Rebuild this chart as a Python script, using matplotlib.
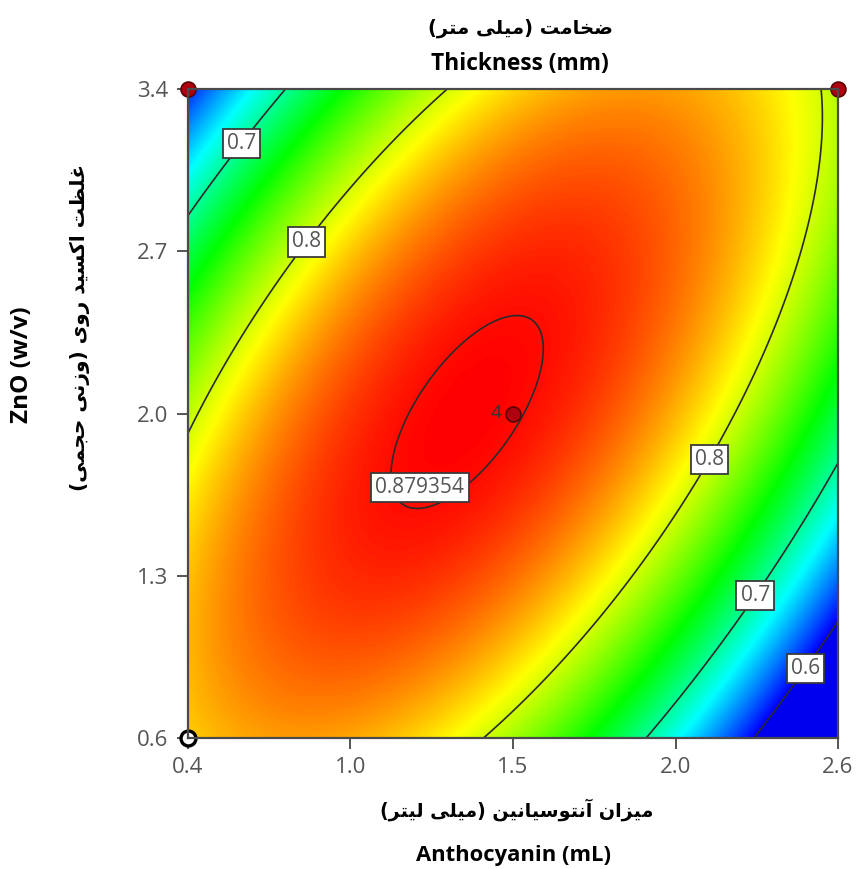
import numpy as np
import matplotlib
matplotlib.use("Agg")
import matplotlib.pyplot as plt
from matplotlib.colors import LinearSegmentedColormap, Normalize

# ---------------- data ----------------
# quadratic response-surface coefficients in coded units
# order: intercept, A, B, AB, A^2, B^2
coef_names = ["b0", "A", "B", "AB", "A2", "B2"]
coef_values = [0.88066, -0.03502, 0.01849, 0.12594, -0.12193, -0.07578]

x_range = [0.4, 2.6]      # Anthocyanin (mL)
y_range = [0.6, 3.4]      # ZnO (w/v)
x_center, x_half = 1.5, 1.1
y_center, y_half = 2.0, 1.4

x_ticks = [0.4, 0.95, 1.5, 2.05, 2.6]
x_tick_labels = ["0.4", "1.0", "1.5", "2.0", "2.6"]
y_ticks = [0.6, 1.3, 2.0, 2.7, 3.4]
y_tick_labels = ["0.6", "1.3", "2.0", "2.7", "3.4"]

contour_levels = [0.6, 0.7, 0.8, 0.879354]
contour_label_text = ["0.6", "0.7", "0.8", "0.879354"]
label_x = [0.566, 0.779, 1.185, 2.150, 2.302, 2.461]
label_y = [3.180, 2.762, 1.680, 1.812, 1.230, 0.928]

red_pts_x = [0.4, 2.6, 1.5]
red_pts_y = [3.4, 3.4, 2.0]
white_pts_x = [0.4]
white_pts_y = [0.6]
center_count = "4"

color_lo, color_hi = 0.60, 0.883

title_fa = "ضخامت (میلی متر)"
title_en = "Thickness (mm)"
xlabel_fa = "میزان آنتوسیانین (میلی لیتر)"
xlabel_en = "Anthocyanin (mL)"
ylabel_fa = "غلظت اکسید روی (وزنی حجمی)"
ylabel_en = "ZnO (w/v)"

# ---------------- Persian shaping (no shaping engine in matplotlib) ----------------
FORMS = {
    "\u0627": (0xFE8D, 0xFE8E, None, None),
    "\u0622": (0xFE81, 0xFE82, None, None),
    "\u0628": (0xFE8F, 0xFE90, 0xFE91, 0xFE92),
    "\u062A": (0xFE95, 0xFE96, 0xFE97, 0xFE98),
    "\u062C": (0xFE9D, 0xFE9E, 0xFE9F, 0xFEA0),
    "\u062D": (0xFEA1, 0xFEA2, 0xFEA3, 0xFEA4),
    "\u062E": (0xFEA5, 0xFEA6, 0xFEA7, 0xFEA8),
    "\u062F": (0xFEA9, 0xFEAA, None, None),
    "\u0631": (0xFEAD, 0xFEAE, None, None),
    "\u0632": (0xFEAF, 0xFEB0, None, None),
    "\u0633": (0xFEB1, 0xFEB2, 0xFEB3, 0xFEB4),
    "\u0636": (0xFEBD, 0xFEBE, 0xFEBF, 0xFEC0),
    "\u0638": (0xFEC5, 0xFEC6, 0xFEC7, 0xFEC8),
    "\u063A": (0xFECD, 0xFECE, 0xFECF, 0xFED0),
    "\u0644": (0xFEDD, 0xFEDE, 0xFEDF, 0xFEE0),
    "\u0645": (0xFEE1, 0xFEE2, 0xFEE3, 0xFEE4),
    "\u0646": (0xFEE5, 0xFEE6, 0xFEE7, 0xFEE8),
    "\u0648": (0xFEED, 0xFEEE, None, None),
    "\u06CC": (0xFBFC, 0xFBFD, 0xFBFE, 0xFBFF),
    "\u06A9": (0xFB8E, 0xFB8F, 0xFB90, 0xFB91),
}


def fa(s):
    out = []
    for i, c in enumerate(s):
        if c not in FORMS:
            out.append(c)
            continue
        prev = s[i - 1] if i > 0 else None
        nxt = s[i + 1] if i + 1 < len(s) else None
        jp = prev in FORMS and FORMS[prev][2] is not None
        jn = FORMS[c][2] is not None and nxt in FORMS
        iso, fin, ini, med = FORMS[c]
        if jp and jn:
            g = med
        elif jp:
            g = fin
        elif jn:
            g = ini
        else:
            g = iso
        out.append(chr(g))
    vis = "".join(reversed(out))
    return vis.translate(str.maketrans("()", ")("))


# ---------------- surface ----------------
xs = np.linspace(x_range[0], x_range[1], 500)
ys = np.linspace(y_range[0], y_range[1], 500)
X, Y = np.meshgrid(xs, ys)
a = (X - x_center) / x_half
b = (Y - y_center) / y_half
c = coef_values
Z = c[0] + c[1] * a + c[2] * b + c[3] * a * b + c[4] * a ** 2 + c[5] * b ** 2

# ---------------- figure ----------------
W, H = 856, 869
fig = plt.figure(figsize=(W / 100, H / 100), dpi=100)
ax = fig.add_axes([188 / W, 1 - 738 / H, 650 / W, 649 / H])

cmap = LinearSegmentedColormap.from_list(
    "de", ["#0000ff", "#00ffff", "#00ff00", "#ffff00", "#ff0000"])
cmap.set_under("#0000ee")
ax.imshow(Z, extent=[x_range[0], x_range[1], y_range[0], y_range[1]], origin="lower",
          cmap=cmap, norm=Normalize(vmin=color_lo, vmax=color_hi), aspect="auto",
          interpolation="bilinear", zorder=1)

cs = ax.contour(X, Y, Z, levels=contour_levels, colors="#2a2a2a", linewidths=1.2, zorder=2)
fmt = dict(zip(contour_levels, contour_label_text))
manual_pts = list(zip(label_x, label_y))
texts = ax.clabel(cs, contour_levels, fmt=fmt, inline=False, fontsize=15,
                  manual=manual_pts, colors="#555555", zorder=5)
for t in texts:
    t.set_rotation(0)
    t.set_family("Open Sans")
    t.set_bbox(dict(boxstyle="square,pad=0.2", facecolor="white", edgecolor="#3a3a3a", linewidth=1.3))
    t.set_zorder(5)
    if t.get_text() == "0.879354":
        t.set_position(manual_pts[2])

ax.scatter(red_pts_x, red_pts_y, s=115, c="#b00010", edgecolors="#5a0000", linewidths=1.2,
           zorder=6, clip_on=False)
ax.scatter(white_pts_x, white_pts_y, s=115, c="white", edgecolors="black", linewidths=2.4,
           zorder=6, clip_on=False)
ax.annotate(center_count, (red_pts_x[2], red_pts_y[2]), xytext=(-8, 0), textcoords="offset points",
            ha="right", va="center", fontsize=14, color="#333333", family="Open Sans", zorder=6)

ax.set_xlim(x_range)
ax.set_ylim(y_range)
ax.set_xticks(x_ticks)
ax.set_xticklabels(x_tick_labels)
ax.set_yticks(y_ticks)
ax.set_yticklabels(y_tick_labels)
ax.tick_params(axis="both", direction="out", length=8, width=1.4, color="#555555",
               labelsize=16, labelcolor="#555555", pad=6)
for lab in ax.get_xticklabels() + ax.get_yticklabels():
    lab.set_family("Open Sans")
for sp in ax.spines.values():
    sp.set_color("#4a4a4a")
    sp.set_linewidth(1.6)
    sp.set_zorder(7)

fa_font = dict(family=["DejaVu Sans"], fontweight="bold", color="black")
en_font = dict(family=["Open Sans"], fontweight="bold", color="black")

fig.text(520 / W, 1 - 28 / H, fa(title_fa), ha="center", va="center", fontsize=14, **fa_font)
fig.text(520 / W, 1 - 64 / H, title_en, ha="center", va="center", fontsize=16.4, **en_font)
fig.text(517 / W, 1 - 810 / H, fa(xlabel_fa), ha="center", va="center", fontsize=13.8, **fa_font)
fig.text(513 / W, 1 - 856 / H, xlabel_en, ha="center", va="center", fontsize=15.8, **en_font)
fig.text(22 / W, 1 - 365 / H, ylabel_en, ha="center", va="center", rotation=90, fontsize=17.5, **en_font)
fig.text(80 / W, 1 - 327 / H, fa(ylabel_fa), ha="center", va="center", rotation=90, fontsize=14.5, **fa_font)

fig.savefig("out.png", dpi=100)
